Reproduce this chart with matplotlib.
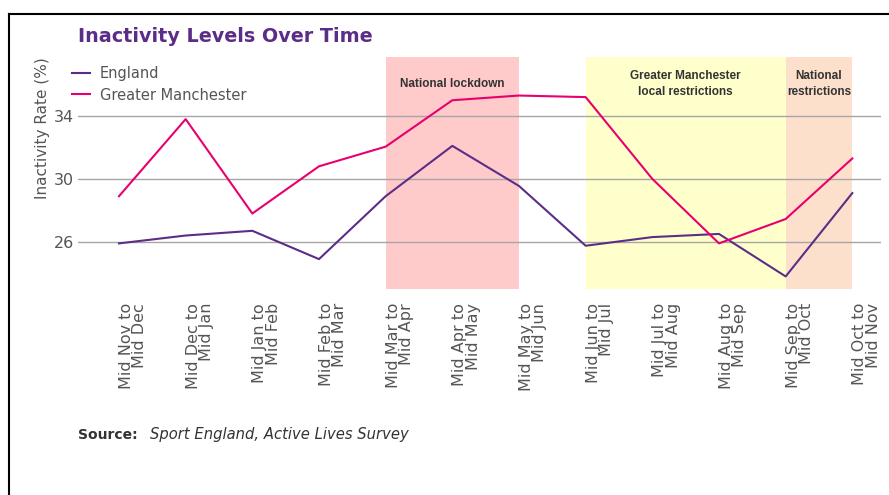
import matplotlib as mpl
mpl.use('agg')
import matplotlib.pyplot as plt
from matplotlib.lines import Line2D

periods = ["Mid Nov to\nMid Dec", "Mid Dec to\nMid Jan", "Mid Jan to\nMid Feb",
           "Mid Feb to\nMid Mar", "Mid Mar to\nMid Apr", "Mid Apr to\nMid May",
           "Mid May to\nMid Jun", "Mid Jun to\nMid Jul", "Mid Jul to\nMid Aug",
           "Mid Aug to\nMid Sep", "Mid Sep to\nMid Oct", "Mid Oct to\nMid Nov"]
england = [25.9, 26.4, 26.7, 24.9, 28.9, 32.1, 29.55, 25.75, 26.3, 26.5, 23.8, 29.1]
greater_manchester = [28.9, 33.8, 27.8, 30.8, 32.05, 35.0, 35.3, 35.2, 30.0, 25.9, 27.45, 31.3]

# restriction periods: (first period, last period, label, colour)
restrictions = [
    (4, 6, "National lockdown", "#ffcaca"),
    (7, 10, "Greater Manchester\nlocal restrictions", "#ffffcc"),
    (10, 11, "National\nrestrictions", "#fde0cb"),
]

W, H = 889, 495
fig = plt.figure(figsize=(W / 100, H / 100), dpi=100)
ax = fig.add_axes([78 / W, 1 - 289 / H, (881 - 78) / W, (289 - 57) / H])

for start, end, label, colour in restrictions:
    ax.axvspan(start, end, color=colour, lw=0, zorder=0)
    ax.text((start + end) / 2, 36.03, label, ha='center', va='center',
            fontsize=8.5, fontweight='bold', color='#333333',
            family='Liberation Sans', linespacing=1.4)

x = list(range(len(periods)))
ax.plot(x, england, color='#5c2d87', lw=1.5, label='England', zorder=3)
ax.plot(x, greater_manchester, color='#e8006f', lw=1.5, label='Greater Manchester', zorder=3)

ax.set_xlim(-0.615, 11.43)
ax.set_ylim(23.0, 37.75)
ax.set_yticks([26, 30, 34])
ax.yaxis.grid(True, color='#a6a6a6', lw=1)
for s in ax.spines.values():
    s.set_visible(False)
ax.tick_params(axis='y', length=0, labelsize=11.5, labelcolor='#555555', pad=3)
ax.set_xticks(x)
ax.set_xticklabels(periods, rotation=90, ha='left', va='top', multialignment='right',
                   fontsize=11.5, color='#555555', linespacing=0.85)
ax.tick_params(axis='x', length=0, pad=10)

for line in ax.get_ygridlines():
    line.set_zorder(1)

fig.text(43 / W, 1 - 128 / H, "Inactivity Rate (%)", rotation=90, ha='center', va='center',
         fontsize=11, color='#555555')

leg = fig.legend(handles=[Line2D([], [], color='#5c2d87', lw=1.5),
                          Line2D([], [], color='#e8006f', lw=1.5)],
                 labels=['England', 'Greater Manchester'],
                 loc='upper left', bbox_to_anchor=(72 / W, 1 - 66 / H), frameon=False,
                 fontsize=10.5, handlelength=1.2, handletextpad=0.7, labelspacing=0.45,
                 borderaxespad=0, borderpad=0)
for t in leg.get_texts():
    t.set_color('#555555')

fig.text(78 / W, 1 - 37 / H, "Inactivity Levels Over Time", ha='left', va='center',
         fontsize=13.8, fontweight='bold', color='#5c2d87')

fig.text(78 / W, 1 - 435 / H, "Source:", ha='left', va='center',
         fontsize=10, fontweight='bold', color='#333333')
fig.text(150 / W, 1 - 435 / H, "Sport England, Active Lives Survey", ha='left', va='center',
         fontsize=10.6, style='italic', color='#333333')

fig.add_artist(Line2D([9 / W, 1], [1 - 14 / H, 1 - 14 / H], color='black', lw=1.5))
fig.add_artist(Line2D([9 / W, 9 / W], [1 - 14 / H, 0], color='black', lw=1.5))

plt.savefig('out.png', dpi=100)
